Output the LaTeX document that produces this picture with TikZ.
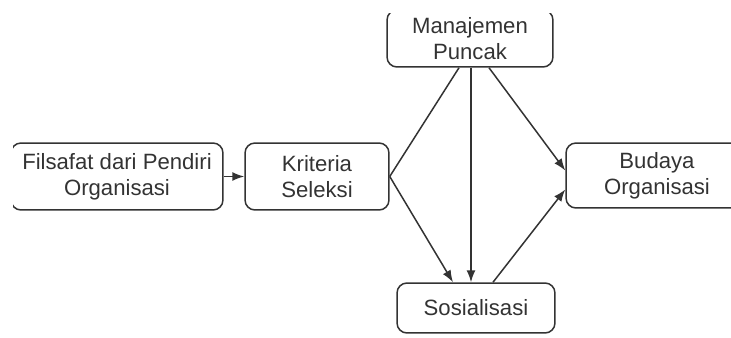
\documentclass[tikz,border=0pt]{standalone}
\usepackage{fontspec}
\setmainfont{Liberation Sans}
\usetikzlibrary{arrows.meta,calc}
\definecolor{inkgray}{HTML}{333333}
\tikzset{
  blok/.style={draw=inkgray, line width=0.03cm, rounded corners=0.2cm, align=center,
    text=inkgray, inner sep=0pt, font=\fontsize{12.6}{14.8}\selectfont},
  panah/.style={draw=inkgray, line width=0.03cm, -{Latex[length=0.24cm,width=0.18cm]}},
  garis/.style={draw=inkgray, line width=0.03cm}
}
\begin{document}
\begin{tikzpicture}[x=0.02cm,y=-0.02cm]
                        \useasboundingbox (0,0) rectangle (731,338);
                        \clip (13,13) rectangle (731,338);

                        % Box Filsafat
                        \node [blok, minimum width=4.24cm, minimum height=1.34cm] (fil) at (117,176.5) {Filsafat dari Pendiri\\Organisasi};%

                        % Box Kriteria
                        \node [blok, minimum width=2.88cm, minimum height=1.34cm] (krit) at (317,176.5) {Kriteria\\Seleksi};%

                        % Box Manajemen (top cut off)
                        \node [blok, minimum width=3.32cm, minimum height=1.14cm] (man) at (470,38.5) {Manajemen\\Puncak};%

                        % Box Sosialisasi
                        \node [blok, minimum width=3.16cm, minimum height=1.0cm] (sos) at (476,308) {Sosialisasi};%

                        % Box Budaya (right side cut off)
                        \node [blok, minimum width=3.64cm, minimum height=1.3cm] (bud) at (657,175.5) {Budaya\\Organisasi};%

                        % Drawing arrow Filsafat -> Kriteria
                        \draw [panah] (fil.east) -- (krit.west);%

                        % Drawing line Kriteria -- Manajemen
                        \draw [garis] (krit.east) -- ($(man.south)+(-11,0)$);%

                        % Drawing arrow Kriteria -> Sosialisasi
                        \draw [panah] (krit.east) -- ($(sos.north)+(-23,0)$);%

                        % Drawing arrow Manajemen -> Sosialisasi
                        \draw [panah] ($(man.south)+(1,0)$) -- ($(sos.north)+(-5,0)$);%

                        % Drawing arrow Manajemen -> Budaya
                        \draw [panah] ($(man.south)+(19,0)$) -- ($(bud.west)+(0,-5)$);%

                        % Drawing arrow Sosialisasi -> Budaya
                        \draw [panah] ($(sos.north)+(17,0)$) -- ($(bud.west)+(0,14)$);%
\end{tikzpicture}
\end{document}
